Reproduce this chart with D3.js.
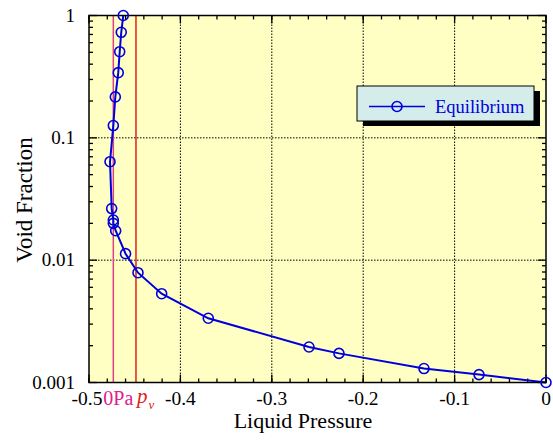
<!DOCTYPE html>
<html>
<head>
<meta charset="utf-8">
<script src="https://cdn.jsdelivr.net/npm/d3@7"></script>
<style>
  body { margin: 0; background: #fff; }
  text { font-family: "Liberation Serif", "Times New Roman", serif; }
</style>
</head>
<body>
<div id="chart"></div>
<script>
// Liquid pressure vs void fraction
const pressure = [-0.4625, -0.4647, -0.4664, -0.468, -0.4712, -0.4734, -0.477, -0.4752, -0.4734, -0.4734,
  -0.4708, -0.460, -0.4464, -0.4205, -0.3695, -0.2593, -0.2265, -0.1335, -0.0733, 0];
const voidFraction = [1.0, 0.729, 0.506, 0.341, 0.216, 0.126, 0.0638, 0.0264, 0.0213, 0.020,
  0.0174, 0.0113, 0.0079, 0.00532, 0.00335, 0.00195, 0.00173, 0.0013, 0.00116, 0.001];
const xTicks = [-0.5, -0.4, -0.3, -0.2, -0.1, 0];
const yTicks = [0.001, 0.01, 0.1, 1];
const yTickLabels = ['0.001', '0.01', '0.1', '1'];
const zeroPa = -0.4734;
const pv = -0.4486;
const seriesName = 'Equilibrium';

const width = 553;
const height = 441;
const margin = { top: 15.5, right: 7, bottom: 58.5, left: 89 };
const chartWidth = width - margin.left - margin.right;
const chartHeight = height - margin.top - margin.bottom;

const svg = d3.select('#chart').append('svg').attr('width', width).attr('height', height);

const x = d3.scaleLinear().domain([-0.5, 0]).range([0, chartWidth]);
const y = d3.scaleLog().domain([0.001, 1]).range([chartHeight, 0]);

const chart = svg.append('g').attr('transform', `translate(${margin.left}, ${margin.top})`);

chart.append('rect')
  .attr('width', chartWidth)
  .attr('height', chartHeight)
  .attr('fill', '#ffffc4');

// dotted grid at major ticks
chart.append('g')
  .selectAll('line')
  .data(xTicks.slice(1, -1))
  .enter()
  .append('line')
  .attr('x1', (d) => x(d)).attr('x2', (d) => x(d))
  .attr('y1', 0).attr('y2', chartHeight)
  .attr('stroke', '#000').attr('stroke-width', 1).attr('stroke-dasharray', '1.5,1.5');

chart.append('g')
  .selectAll('line')
  .data(yTicks.slice(1, -1))
  .enter()
  .append('line')
  .attr('y1', (d) => y(d)).attr('y2', (d) => y(d))
  .attr('x1', 0).attr('x2', chartWidth)
  .attr('stroke', '#000').attr('stroke-width', 1).attr('stroke-dasharray', '1.5,1.5');

// minor ticks
const xMinor = d3.range(-0.5, 0.0001, 0.02);
const yMinor = [];
[0.001, 0.01, 0.1].forEach((b) => { for (let k = 2; k <= 9; k++) yMinor.push(b * k); });

function addTicks(values, major) {
  const len = major ? 8 : 4;
  const g = chart.append('g').attr('stroke', '#000').attr('stroke-width', 1.3);
  values.forEach((v) => {
    g.append('line').attr('x1', x(v)).attr('x2', x(v)).attr('y1', chartHeight).attr('y2', chartHeight - len);
    g.append('line').attr('x1', x(v)).attr('x2', x(v)).attr('y1', 0).attr('y2', len);
  });
}
addTicks(xMinor, false);
addTicks(xTicks, true);

function addYTicks(values, major) {
  const len = major ? 8 : 4;
  const g = chart.append('g').attr('stroke', '#000').attr('stroke-width', 1.3);
  values.forEach((v) => {
    g.append('line').attr('y1', y(v)).attr('y2', y(v)).attr('x1', 0).attr('x2', len);
    g.append('line').attr('y1', y(v)).attr('y2', y(v)).attr('x1', chartWidth).attr('x2', chartWidth - len);
  });
}
addYTicks(yMinor, false);
addYTicks(yTicks, true);

// reference lines
chart.append('line')
  .attr('x1', x(zeroPa)).attr('x2', x(zeroPa))
  .attr('y1', 0).attr('y2', chartHeight)
  .attr('stroke', '#e0408a').attr('stroke-width', 1.5);
chart.append('line')
  .attr('x1', x(pv)).attr('x2', x(pv))
  .attr('y1', 0).attr('y2', chartHeight)
  .attr('stroke', '#e02020').attr('stroke-width', 1.5);

// series
const data = pressure.map((p, i) => ({ p: p, v: voidFraction[i] }));
const line = d3.line().x((d) => x(d.p)).y((d) => y(d.v));

chart.append('path')
  .datum(data)
  .attr('d', line)
  .attr('fill', 'none')
  .attr('stroke', '#0000dd')
  .attr('stroke-width', 2);

// frame
chart.append('rect')
  .attr('width', chartWidth)
  .attr('height', chartHeight)
  .attr('fill', 'none')
  .attr('stroke', '#000')
  .attr('stroke-width', 1.5);

chart.selectAll('.pt')
  .data(data)
  .enter()
  .append('circle')
  .attr('class', 'pt')
  .attr('cx', (d) => x(d.p))
  .attr('cy', (d) => y(d.v))
  .attr('r', 5)
  .attr('fill', 'none')
  .attr('stroke', '#0000dd')
  .attr('stroke-width', 1.6);

// tick labels
chart.append('g')
  .selectAll('text')
  .data(xTicks)
  .enter()
  .append('text')
  .attr('x', (d) => x(d) - (d === -0.5 ? 2 : 0))
  .attr('y', chartHeight + 22)
  .attr('text-anchor', 'middle')
  .attr('font-size', 19.5)
  .text((d) => (d === 0 ? '0' : d.toFixed(1)));

chart.append('g')
  .selectAll('text')
  .data(yTicks)
  .enter()
  .append('text')
  .attr('x', -14)
  .attr('y', (d) => y(d) + 6)
  .attr('text-anchor', 'end')
  .attr('font-size', 19)
  .text((d, i) => yTickLabels[i]);

// labels for the reference lines
chart.append('text')
  .attr('x', x(zeroPa) - 10)
  .attr('y', chartHeight + 22)
  .attr('font-size', 20)
  .attr('fill', '#e0208a')
  .text('0Pa');
const pvLabel = chart.append('text')
  .attr('x', x(pv) + 1)
  .attr('y', chartHeight + 20)
  .attr('font-size', 21)
  .attr('fill', '#e02020');
pvLabel.append('tspan').attr('font-style', 'italic').text('p');
pvLabel.append('tspan').attr('font-style', 'italic').attr('font-size', 13).attr('dy', 6).attr('dx', 1).text('v');

// axis titles
svg.append('text')
  .attr('x', 303)
  .attr('y', height - 13)
  .attr('text-anchor', 'middle')
  .attr('font-size', 22)
  .text('Liquid Pressure');

svg.append('text')
  .attr('transform', `translate(32, ${margin.top + chartHeight / 2 + 1}) rotate(-90)`)
  .attr('text-anchor', 'middle')
  .attr('font-size', 23)
  .text('Void Fraction');

// legend
const legend = svg.append('g').attr('transform', 'translate(357, 86)');
legend.append('rect')
  .attr('x', 6).attr('y', 5).attr('width', 177).attr('height', 35)
  .attr('fill', '#000');
legend.append('rect')
  .attr('width', 177).attr('height', 35)
  .attr('fill', '#d4ecea').attr('stroke', '#000').attr('stroke-width', 1);
legend.append('line')
  .attr('x1', 12).attr('x2', 68).attr('y1', 20.5).attr('y2', 20.5)
  .attr('stroke', '#0000dd').attr('stroke-width', 1.6);
legend.append('circle')
  .attr('cx', 40).attr('cy', 20.5).attr('r', 5)
  .attr('fill', 'none').attr('stroke', '#0000dd').attr('stroke-width', 1.6);
legend.append('text')
  .attr('x', 78).attr('y', 26.5)
  .attr('font-size', 18.5)
  .attr('fill', '#0000dd')
  .text(seriesName);
</script>
</body>
</html>
